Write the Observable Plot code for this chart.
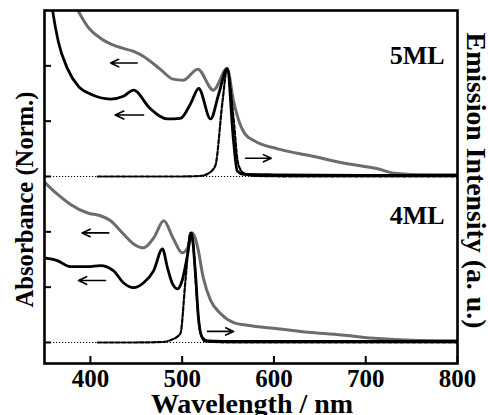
<!DOCTYPE html>
<html><head><meta charset="utf-8">
<script src="https://cdn.jsdelivr.net/npm/d3@7"></script>
<script src="https://cdn.jsdelivr.net/npm/@observablehq/plot@0.6"></script>
<style>body{margin:0;background:#fff}</style>
</head><body><div id="chart"></div>
<script>
// 5ML (baseline offset 3)
const abs5BlackW = [354, 359, 365, 375, 387, 400, 422, 436, 447, 465, 484, 498, 509, 518, 531, 540, 549, 556, 560, 567, 600, 700, 800];
const abs5BlackV = [6.6, 5.98, 5.44, 4.95, 4.63, 4.49, 4.40, 4.45, 4.56, 4.23, 4.04, 4.05, 4.31, 4.59, 4.04, 4.5, 4.95, 3.64, 3.10, 3.04, 3.03, 3.02, 3.02];
const abs5GrayW = [380, 387, 397, 411, 429, 447, 458, 476, 490, 501, 517, 534, 549, 556, 563, 568, 579, 604, 641, 677, 713, 731, 767, 800];
const abs5GrayV = [6.2, 5.98, 5.71, 5.50, 5.35, 5.26, 5.17, 4.94, 4.76, 4.74, 4.94, 4.56, 4.95, 4.36, 3.95, 3.78, 3.64, 3.50, 3.37, 3.24, 3.14, 3.06, 3.03, 3.03];
const em5W = [408, 450, 500, 520, 528, 536, 544, 549, 556, 561, 567, 580, 650, 720, 800];
const em5V = [3.0, 3.0, 3.0, 3.01, 3.05, 3.19, 4.36, 4.95, 4.05, 3.23, 3.06, 3.01, 3.0, 3.0, 3.0];
// 4ML (baseline offset 0)
const abs4GrayW = [350, 364, 378, 397, 411, 422, 436, 447, 458, 469, 480, 490, 500, 506, 511, 517, 523, 531, 542, 556, 571, 604, 641, 677, 713, 750, 800];
const abs4GrayV = [2.9, 2.68, 2.50, 2.34, 2.29, 2.20, 1.96, 1.78, 1.71, 1.89, 2.20, 1.89, 1.62, 1.71, 1.98, 1.71, 1.17, 0.76, 0.52, 0.36, 0.31, 0.25, 0.18, 0.13, 0.07, 0.04, 0.03];
const abs4BlackW = [350, 364, 378, 397, 411, 425, 436, 447, 458, 469, 478.5, 484, 489.5, 495, 500, 506, 510, 514.5, 518, 522, 527.6, 560, 650, 800];
const abs4BlackV = [1.53, 1.48, 1.37, 1.37, 1.39, 1.30, 1.08, 0.99, 1.08, 1.30, 1.69, 1.35, 1.06, 0.97, 1.12, 1.60, 1.98, 1.24, 0.40, 0.09, 0.03, 0.02, 0.02, 0.02];
const em4W = [408, 450, 480, 487, 498, 503.6, 509, 512.4, 516.7, 520, 525, 560, 650, 800];
const em4V = [0, 0, 0.01, 0.04, 0.16, 1.12, 1.98, 1.71, 0.63, 0.16, 0.02, 0.0, 0.0, 0.0];
// baselines and ticks
const baselines = [0, 3];
const yTicks = [0, 1, 2, 3, 4, 5];
const xTicks = [400, 500, 600, 700, 800];
// arrows
const arrowX1 = [451, 458, 569, 420, 416.5, 527.6];
const arrowX2 = [422, 427, 597, 391, 387, 556];
const arrowY = [5.05, 4.11, 3.33, 1.98, 1.12, 0.2];
// panel labels
const panelLabels = ["5ML", "4ML"];
const panelLabelY = [5.19, 2.29];

const pts = (w, v) => w.map((x, i) => ({x, y: v[i]}));
const arrows = arrowX1.map((x1, i) => ({x1, x2: arrowX2[i], y: arrowY[i]}));
const labels = panelLabels.map((t, i) => ({t, y: panelLabelY[i]}));
const GRAY = "#6c6c6c";

const lineOpts = (stroke, sw, extra = {}) => ({x: "x", y: "y", stroke, strokeWidth: sw, curve: "monotone-x", clip: true, ...extra});

const chart = Plot.plot({
  width: 488, height: 415,
  marginLeft: 44, marginRight: 31, marginTop: 10, marginBottom: 52,
  style: {fontFamily: "'Liberation Serif', 'Times New Roman', serif", fontWeight: "bold", fontSize: "25px", background: "#fff", color: "#000"},
  x: {domain: [350, 800]},
  y: {domain: [-0.38, 6]},
  marks: [
    Plot.ruleY(baselines, {stroke: "#000", strokeWidth: 1, strokeDasharray: "1.2,1.8", clip: true}),
    Plot.line(pts(abs5GrayW, abs5GrayV), lineOpts(GRAY, 3)),
    Plot.line(pts(abs4GrayW, abs4GrayV), lineOpts(GRAY, 3)),
    Plot.line(pts(abs5BlackW, abs5BlackV), lineOpts("#000", 2.8)),
    Plot.line(pts(abs4BlackW, abs4BlackV), lineOpts("#000", 2.8)),
    Plot.line(pts(em5W, em5V), lineOpts("#000", 2.2, {strokeDasharray: "4,2"})),
    Plot.line(pts(em4W, em4V), lineOpts("#000", 2.2, {strokeDasharray: "4,2"})),
    Plot.arrow(arrows, {x1: "x1", x2: "x2", y1: "y", y2: "y", stroke: "#000", strokeWidth: 1.6, headLength: 9, headAngle: 50}),
    Plot.text(labels, {x: 786, y: "y", text: "t", textAnchor: "end", fontSize: 26}),
    Plot.axisX({ticks: xTicks, tickSize: -7, tickPadding: 13, strokeWidth: 2, label: null, fontSize: 25}),
    Plot.axisY({ticks: yTicks, tickSize: -7, strokeWidth: 2, tickFormat: () => "", label: null}),
    Plot.frame({stroke: "#000", strokeWidth: 2.6}),
    Plot.text(["Absorbance (Norm.)"], {frameAnchor: "left", textAnchor: "middle", text: d => d, rotate: -90, dx: -19, dy: 12.5, fontSize: 24.6}),
    Plot.text(["Emission Intensity (a. u.)"], {frameAnchor: "right", textAnchor: "middle", text: d => d, rotate: 90, dx: 18, dy: -6.5, fontSize: 27.8}),
    Plot.text(["Wavelength / nm"], {frameAnchor: "bottom", text: d => d, dy: 49, dx: 1, fontSize: 28})
  ]
});
document.getElementById("chart").appendChild(chart);
</script>
</body></html>
